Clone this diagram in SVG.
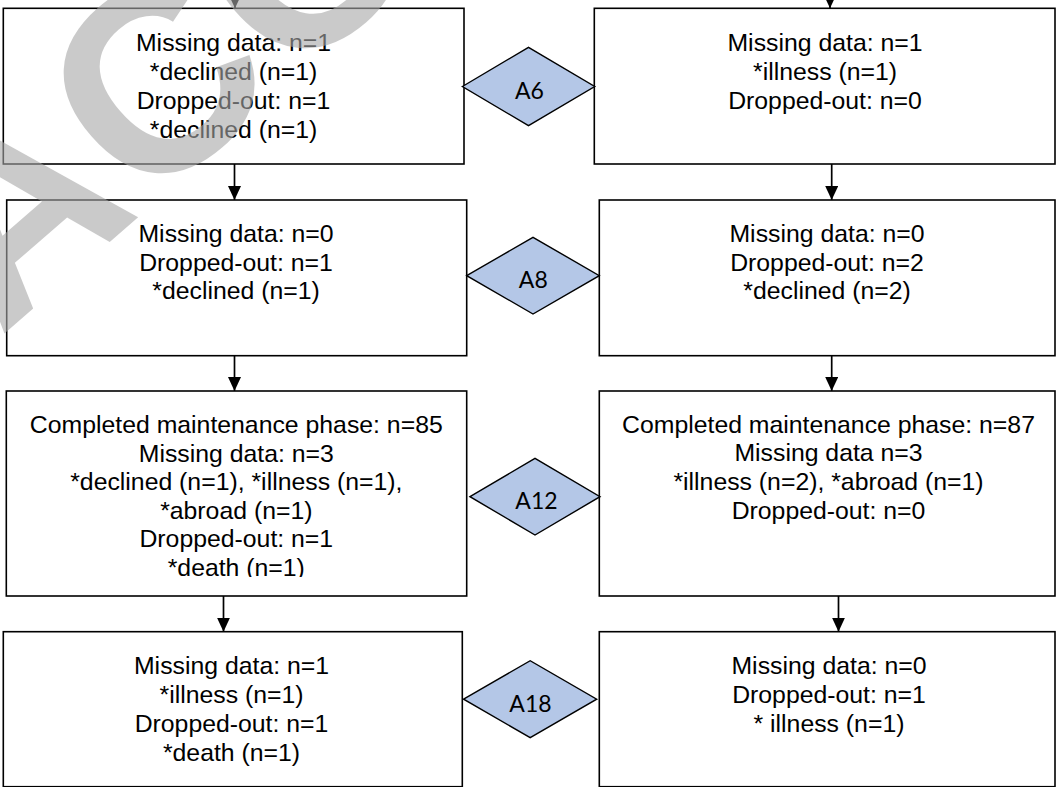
<svg xmlns="http://www.w3.org/2000/svg" width="1057" height="787" viewBox="0 0 1057 787">
<style>
.box{fill:#fff;stroke:#000;stroke-width:1.6}
.dia{fill:#b4c7e7;stroke:#000;stroke-width:1.4}
.t{font-family:"Liberation Sans",Arial,sans-serif;font-size:24.8px;fill:#000;text-anchor:middle}
.d{font-family:Lato,"Liberation Sans",sans-serif;font-size:23px;fill:#000;text-anchor:middle}
.c{stroke:#000;stroke-width:1.7;fill:none;marker-end:url(#ah)}
.wm{font-family:"Liberation Sans",Arial,sans-serif;font-weight:bold;font-size:264px;fill:#a8a8a8;opacity:0.6}
</style>
<defs>
<marker id="ah" markerUnits="userSpaceOnUse" markerWidth="15" markerHeight="13" refX="14" refY="6.5" orient="auto">
<path d="M0,0 L14,6.5 L0,13 z" fill="#000"/>
</marker>
<clipPath id="clipL3"><rect x="6" y="391" width="461" height="186"/></clipPath>
</defs>
<rect width="1057" height="787" fill="#fff"/>

<g id="connectors">
<line class="c" x1="235" y1="-12" x2="235" y2="8.3"/>
<line class="c" x1="234.5" y1="164" x2="234.5" y2="200"/>
<line class="c" x1="234.5" y1="355.7" x2="234.5" y2="391"/>
<line class="c" x1="223.5" y1="596" x2="223.5" y2="631.7"/>
<line class="c" x1="830" y1="-12" x2="830" y2="8.3"/>
<line class="c" x1="831.7" y1="164" x2="831.7" y2="200"/>
<line class="c" x1="831.7" y1="355.7" x2="831.7" y2="391"/>
<line class="c" x1="838.5" y1="596" x2="838.5" y2="631.7"/>
</g>

<g id="L1">
<rect class="box" x="3.3" y="8.3" width="460.7" height="155.7"/>
<text class="t" x="233.5" y="51">Missing data: n=1</text>
<text class="t" x="233.5" y="80">*declined (n=1)</text>
<text class="t" x="233.5" y="109">Dropped-out: n=1</text>
<text class="t" x="233.5" y="137.8">*declined (n=1)</text>
</g>
<g id="R1">
<rect class="box" x="594.3" y="8.3" width="460.7" height="155.7"/>
<text class="t" x="825" y="51">Missing data: n=1</text>
<text class="t" x="825" y="80">*illness (n=1)</text>
<text class="t" x="825" y="109">Dropped-out: n=0</text>
</g>
<g id="A6">
<polygon class="dia" points="462.4,86.5 528.5,47.3 594.7,86.5 528.5,125.7"/>
<text class="d" x="529.5" y="98.5">A6</text>
</g>

<g id="L2">
<rect class="box" x="6.7" y="200" width="460" height="155.7"/>
<text class="t" x="236" y="241.7">Missing data: n=0</text>
<text class="t" x="236" y="270.5">Dropped-out: n=1</text>
<text class="t" x="236" y="299.3">*declined (n=1)</text>
</g>
<g id="R2">
<rect class="box" x="599.3" y="200" width="455.7" height="155.7"/>
<text class="t" x="827" y="241.7">Missing data: n=0</text>
<text class="t" x="827" y="270.5">Dropped-out: n=2</text>
<text class="t" x="827" y="299.3">*declined (n=2)</text>
</g>
<g id="A8">
<polygon class="dia" points="466.7,275.7 533,237.3 599.3,275.7 533,314"/>
<text class="d" x="533.3" y="287.5">A8</text>
</g>

<g id="L3">
<rect class="box" x="6.3" y="391" width="460.4" height="205"/>
<g clip-path="url(#clipL3)">
<text class="t" x="236.3" y="433">Completed maintenance phase: n=85</text>
<text class="t" x="236.3" y="461.5">Missing data: n=3</text>
<text class="t" x="236.3" y="490">*declined (n=1), *illness (n=1),</text>
<text class="t" x="236.3" y="518.5">*abroad (n=1)</text>
<text class="t" x="236.3" y="547">Dropped-out: n=1</text>
<text class="t" x="236.3" y="575.5">*death (n=1)</text>
</g>
</g>
<g id="R3">
<rect class="box" x="599.3" y="391" width="455.7" height="205"/>
<text class="t" x="828.5" y="432.5">Completed maintenance phase: n=87</text>
<text class="t" x="828.5" y="461.3">Missing data n=3</text>
<text class="t" x="828.5" y="490.1">*illness (n=2), *abroad (n=1)</text>
<text class="t" x="828.5" y="519">Dropped-out: n=0</text>
</g>
<g id="A12">
<polygon class="dia" points="470,496.7 535,458.3 600,496.7 535,535"/>
<text class="d" x="536.5" y="509">A12</text>
</g>

<g id="L4">
<rect class="box" x="3.3" y="631.7" width="459" height="155"/>
<text class="t" x="231.5" y="674">Missing data: n=1</text>
<text class="t" x="231.5" y="703">*illness (n=1)</text>
<text class="t" x="231.5" y="732">Dropped-out: n=1</text>
<text class="t" x="231.5" y="761">*death (n=1)</text>
</g>
<g id="R4">
<rect class="box" x="599.3" y="631.7" width="455.7" height="155"/>
<text class="t" x="829" y="673.5">Missing data: n=0</text>
<text class="t" x="829" y="702.5">Dropped-out: n=1</text>
<text class="t" x="829" y="731.5">* illness (n=1)</text>
</g>
<g id="A18">
<polygon class="dia" points="463.6,699.2 530.2,660.7 596.7,699.2 530.2,737.7"/>
<text class="d" x="530.5" y="711.5">A18</text>
</g>

<g id="watermark">
<text class="wm" transform="translate(-0.5,337.7) rotate(-41)">ACC</text>
</g>
</svg>
